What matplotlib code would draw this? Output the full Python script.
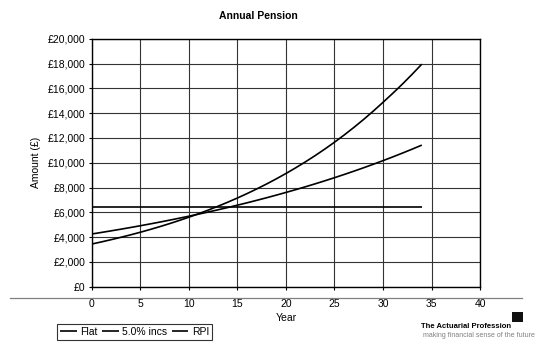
import matplotlib
matplotlib.use("Agg")
import matplotlib.pyplot as plt
from matplotlib.lines import Line2D
from matplotlib.patches import Rectangle
from matplotlib.ticker import FuncFormatter

plt.rcParams['font.family'] = ['Liberation Sans', 'DejaVu Sans']

years = list(range(0, 35))
flat = [6420] * 35
incs_5pc = [3440, 3612, 3793, 3982, 4181, 4390, 4610, 4840, 5082, 5337,
            5603, 5884, 6178, 6487, 6811, 7151, 7509, 7885, 8279, 8693,
            9128, 9584, 10063, 10566, 11095, 11650, 12232, 12844, 13486, 14160,
            14868, 15590, 16340, 17130, 17950]
rpi = [4250, 4375, 4504, 4637, 4774, 4915, 5060, 5209, 5363, 5521,
       5684, 5851, 6024, 6201, 6384, 6573, 6766, 6966, 7171, 7383,
       7601, 7825, 8056, 8293, 8538, 8790, 9049, 9316, 9591, 9874,
       10165, 10465, 10774, 11091, 11419]
series_names = ['Flat', '5.0% incs', 'RPI']

fig = plt.figure(figsize=(5.37, 3.45), dpi=100)
ax = fig.add_axes([0.1708, 0.169, 0.7232, 0.7188])

for vals, name in zip([flat, incs_5pc, rpi], series_names):
    ax.plot(years, vals, color='black', lw=1.2, label=name, solid_capstyle='butt')

ax.set_xlim(0, 40)
ax.set_ylim(0, 20000)
ax.set_xticks(range(0, 41, 5))
ax.set_yticks(range(0, 20001, 2000))
ax.yaxis.set_major_formatter(FuncFormatter(lambda v, p: f'£{int(v):,}'))
ax.grid(True, color='#333333', lw=0.8)
ax.set_axisbelow(True)
for sp in ax.spines.values():
    sp.set_color('black')
    sp.set_linewidth(1.0)
ax.tick_params(axis='y', direction='out', length=2.5, width=0.8, labelsize=7.5, pad=2)
ax.tick_params(axis='x', direction='out', length=2.5, width=0.8, labelsize=7.5, pad=6.2)

ax.set_xlabel('Year', fontsize=7.5, labelpad=3)
ax.set_ylabel('Amount (£)', fontsize=7.5, labelpad=5)
fig.text(0.481, 0.955, 'Annual Pension', fontsize=7.5, fontweight='bold',
         ha='center', va='center')

# grey rule under the axis, level with the top of the tick labels
fig.add_artist(Line2D([0.019, 0.972], [0.136, 0.136], color='#808080', lw=0.9))

leg = ax.legend(loc='center', bbox_to_anchor=(0.251, 0.038), bbox_transform=fig.transFigure,
                ncol=3, fontsize=7.5, frameon=True, fancybox=False, edgecolor='black',
                handlelength=1.6, handletextpad=0.35, columnspacing=0.4,
                borderpad=0.3, borderaxespad=0)
leg.get_frame().set_linewidth(0.8)

# logo block, bottom right
fig.add_artist(Rectangle((0.953, 0.068), 0.021, 0.029, transform=fig.transFigure,
                         facecolor='#111111', edgecolor='none'))
fig.text(0.784, 0.053, 'The Actuarial Profession', fontsize=5.5, fontweight='bold',
         ha='left', va='center')
fig.text(0.996, 0.027, 'making financial sense of the future', fontsize=5.0,
         color='#808080', ha='right', va='center')

fig.savefig('out.png', dpi=100)
